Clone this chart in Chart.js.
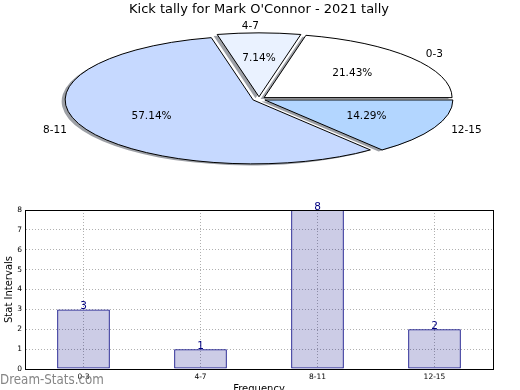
<!DOCTYPE html>
<html>
<head>
<meta charset="utf-8">
<script src="https://cdn.jsdelivr.net/npm/chart.js@4.4.1/dist/chart.umd.min.js"></script>
<style>
  html, body { margin: 0; padding: 0; background: #fff; overflow: hidden; }
  #wrap { position: relative; width: 520px; height: 390px; overflow: hidden; }
  #pieChart { position: absolute; left: 0; top: 0; }
  #barChart { position: absolute; left: 0; top: 195px; }
  #mark { position: absolute; left: 0; top: 372px; font: 14px/14px "DejaVu Sans"; color: #858585;
          white-space: nowrap; transform: scaleX(0.85); transform-origin: left top; }
</style>
</head>
<body>
<div id="wrap">
  <canvas id="barChart" width="520" height="200"></canvas>
  <canvas id="pieChart" width="520" height="200"></canvas>
  <div id="mark">Dream-Stats.com</div>
</div>
<script>
// Datos del gráfico
const titleText = "Kick tally for Mark O'Connor - 2021 tally";
const categories = ['0-3', '4-7', '8-11', '12-15'];
const tally = [3, 1, 8, 2];
const sliceColors = ['#FFFFFF', '#EAF2FF', '#C6D9FF', '#B3D6FF'];
const yTicks = [0, 1, 2, 3, 4, 5, 6, 7, 8];

Chart.defaults.font.family = '"DejaVu Sans", sans-serif';
Chart.defaults.color = '#000';

// El pastel se dibuja en orden inverso para girar en sentido antihorario
const pieLabels = categories.slice().reverse();
const pieValues = tally.slice().reverse();
const pieColors = sliceColors.slice().reverse();
const total = tally.reduce((a, b) => a + b, 0);

const SQUASH = 0.34;       // alto / ancho de la elipse
const EXPLODE = 6.5;       // separación de las porciones
const SHADOW = [-3.5, 1.5];

function squash(ctx, arc, dx, dy) {
  ctx.translate(arc.x + dx, arc.y + dy);
  ctx.scale(1, SQUASH);
  ctx.translate(-arc.x, -arc.y);
}

function slicePath(ctx, arc) {
  const mid = (arc.startAngle + arc.endAngle) / 2;
  const cx = arc.x + Math.cos(mid) * EXPLODE;
  const cy = arc.y + Math.sin(mid) * EXPLODE;
  ctx.beginPath();
  ctx.moveTo(cx, cy);
  ctx.arc(cx, cy, arc.outerRadius, arc.startAngle, arc.endAngle);
  ctx.closePath();
}

// Plugin: pastel elíptico con sombra, bordes y etiquetas
const ellipsePie = {
  id: 'ellipsePie',
  beforeDatasetsDraw(chart) {
    const ctx = chart.ctx;
    const arcs = chart.getDatasetMeta(0).data;

    // sombras
    arcs.forEach(arc => {
      ctx.save();
      squash(ctx, arc, SHADOW[0], SHADOW[1]);
      slicePath(ctx, arc);
      ctx.restore();
      ctx.fillStyle = 'rgba(60, 65, 77, 0.5)';
      ctx.fill();
    });

    // porciones
    arcs.forEach(arc => {
      const mid = (arc.startAngle + arc.endAngle) / 2;
      ctx.save();
      squash(ctx, arc, 0, 0);
      ctx.translate(Math.cos(mid) * EXPLODE, Math.sin(mid) * EXPLODE);
      arc.draw(ctx);
      ctx.restore();

      ctx.save();
      squash(ctx, arc, 0, 0);
      slicePath(ctx, arc);
      ctx.restore();
      ctx.lineWidth = 1;
      ctx.strokeStyle = '#000';
      ctx.stroke();
    });

    // etiquetas
    ctx.save();
    ctx.fillStyle = '#000';
    ctx.font = '10.5px "DejaVu Sans"';
    ctx.textBaseline = 'middle';
    arcs.forEach((arc, i) => {
      const mid = (arc.startAngle + arc.endAngle) / 2;
      const c = Math.cos(mid), s = Math.sin(mid);
      const r1 = EXPLODE + 1.1 * arc.outerRadius;
      ctx.textAlign = c > 1e-6 ? 'left' : 'right';
      ctx.fillText(pieLabels[i], arc.x + c * r1, arc.y + s * r1 * SQUASH);
      const r2 = EXPLODE + 0.6 * arc.outerRadius;
      ctx.textAlign = 'center';
      ctx.fillText((pieValues[i] / total * 100).toFixed(2) + '%', arc.x + c * r2, arc.y + s * r2 * SQUASH);
    });
    ctx.restore();
    return false;
  }
};

const pieChart = new Chart(document.getElementById('pieChart'), {
  type: 'pie',
  data: {
    labels: pieLabels,
    datasets: [{
      data: pieValues,
      backgroundColor: pieColors,
      borderWidth: 0,
      clip: false
    }]
  },
  options: {
    responsive: false,
    animation: false,
    devicePixelRatio: 1,
    events: [],
    rotation: 90,
    radius: 188,
    layout: { padding: { top: 0, left: 0, right: 2, bottom: 23.6 } },
    plugins: {
      legend: { display: false },
      tooltip: { enabled: false },
      title: {
        display: true,
        text: titleText,
        color: '#000',
        font: { size: 13, weight: 'normal' },
        padding: { top: 2, bottom: 4 }
      }
    }
  },
  plugins: [ellipsePie]
});

// Plugin: marco y valores sobre las barras
const barExtras = {
  id: 'barExtras',
  afterDatasetsDraw(chart) {
    const { ctx, chartArea: a } = chart;
    ctx.save();
    ctx.strokeStyle = '#000';
    ctx.lineWidth = 1;
    ctx.strokeRect(Math.round(a.left) + 0.5, Math.round(a.top) + 0.5,
      Math.round(a.right - a.left), Math.round(a.bottom - a.top));
    ctx.fillStyle = '#000080';
    ctx.font = '10.5px "DejaVu Sans"';
    ctx.textAlign = 'center';
    ctx.textBaseline = 'alphabetic';
    chart.getDatasetMeta(0).data.forEach((bar, i) => {
      ctx.fillText(String(tally[i]), bar.x, bar.y);
    });
    ctx.restore();
  }
};

const barChart = new Chart(document.getElementById('barChart'), {
  type: 'bar',
  data: {
    labels: categories,
    datasets: [{
      data: tally,
      backgroundColor: 'rgba(0, 0, 128, 0.2)',
      borderColor: '#000080',
      borderWidth: 1,
      borderSkipped: false,
      barPercentage: 0.45,
      categoryPercentage: 1
    }]
  },
  options: {
    responsive: false,
    animation: false,
    devicePixelRatio: 1,
    events: [],
    layout: { padding: { top: 15, left: 0, right: 27, bottom: 0 } },
    plugins: {
      legend: { display: false },
      tooltip: { enabled: false }
    },
    scales: {
      x: {
        grid: { offset: false, color: '#b0b0b0', drawTicks: false },
        border: { color: '#000', dash: [1, 2] },
        ticks: { font: { size: 7.5 }, padding: 4, maxRotation: 0 },
        title: { display: true, text: 'Frequency', font: { size: 10 }, padding: 0 },
        afterFit: s => { s.height = 26; }
      },
      y: {
        min: 0,
        max: 8,
        grid: { color: '#b0b0b0', drawTicks: false },
        border: { color: '#000', dash: [1, 2] },
        afterBuildTicks: s => { s.ticks = yTicks.map(v => ({ value: v })); },
        ticks: { font: { size: 7.5 }, padding: 3 },
        title: { display: true, text: 'Stat Intervals', font: { size: 10 }, padding: { top: 3, bottom: 0 } },
        afterFit: s => { s.width = 25; }
      }
    }
  },
  plugins: [barExtras]
});
</script>
</body>
</html>
